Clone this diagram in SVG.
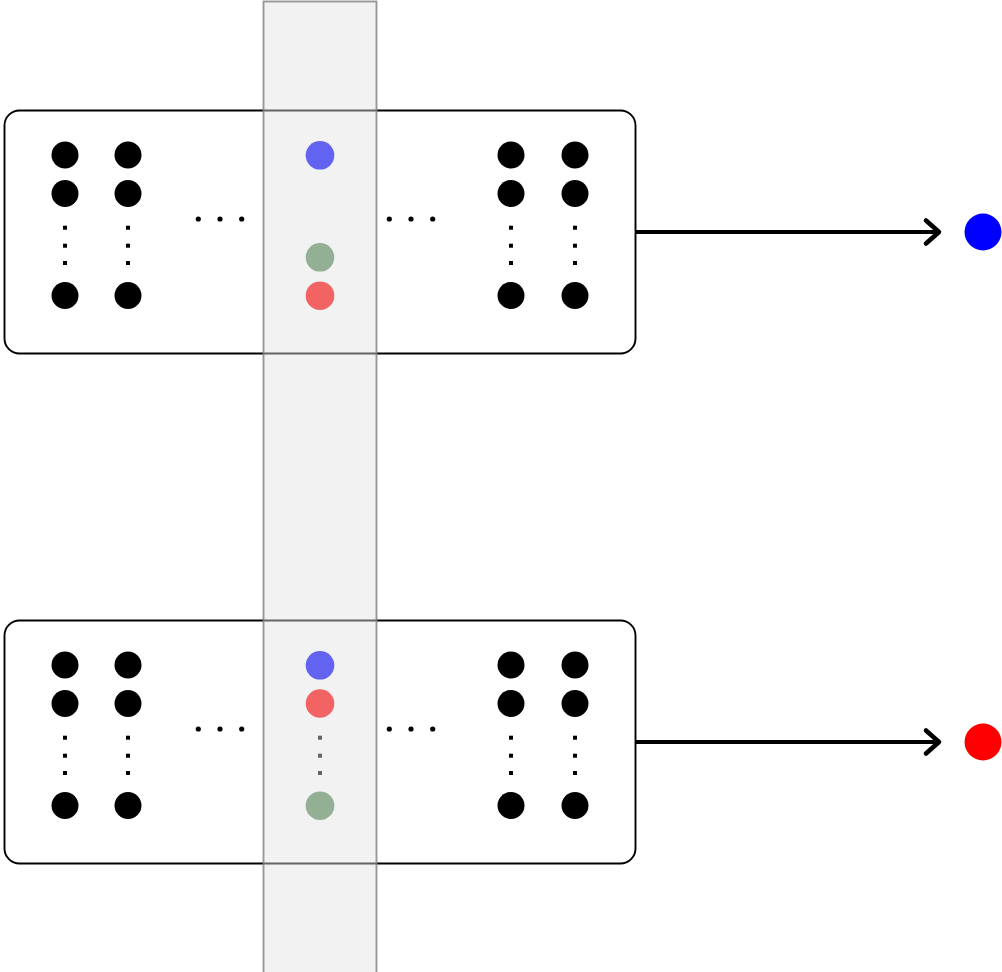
<svg xmlns="http://www.w3.org/2000/svg" width="1002" height="972" viewBox="0 0 1002 972">
  <style>
    .box { fill: none; stroke: #000; stroke-width: 1.9; }
    .dot { fill: #000; }
    .hd { fill: #000; }
    .vd { fill: #000; }
    .edge { fill: none; stroke: #000; stroke-width: 4.2; }
    .head { fill: none; stroke: #000; stroke-width: 4.6; stroke-linecap: round; stroke-linejoin: round; }
    .band { fill: #e2e2e2; fill-opacity: 0.44; stroke: #808080; stroke-opacity: 0.8; stroke-width: 1.9; }
  </style>
  <defs>
    <!-- a column of values: two dots, vertical ellipsis, last dot -->
    <g id="col">
      <circle class="dot" cx="0" cy="0" r="13.5"/>
      <circle class="dot" cx="0" cy="38.5" r="13.5"/>
      <rect class="vd" x="-2" y="70.7" width="4" height="4"/>
      <rect class="vd" x="-2" y="88.7" width="4" height="4"/>
      <rect class="vd" x="-2" y="106" width="4" height="4"/>
      <circle class="dot" cx="0" cy="140.5" r="13.5"/>
    </g>
    <g id="hdots">
      <circle class="hd" cx="0" cy="0" r="2.6"/>
      <circle class="hd" cx="21.7" cy="0" r="2.6"/>
      <circle class="hd" cx="43.4" cy="0" r="2.6"/>
    </g>
  </defs>

  <rect width="1002" height="972" fill="#fff"/>

  <!-- upper record -->
  <g id="record-top">
    <rect class="box" x="4.5" y="110.5" width="631" height="243" rx="15"/>
    <use href="#col" x="65" y="155"/>
    <use href="#col" x="128" y="155"/>
    <use href="#hdots" x="198.3" y="219"/>
    <circle cx="320" cy="155.3" r="14.3" fill="#0000ff"/>
    <circle cx="320" cy="257.3" r="14.3" fill="#588a58"/>
    <circle cx="320" cy="295.7" r="14.3" fill="#ff0000"/>
    <use href="#hdots" x="389.3" y="219"/>
    <use href="#col" x="511" y="155"/>
    <use href="#col" x="575" y="155"/>
  </g>

  <!-- lower record -->
  <g id="record-bottom">
    <rect class="box" x="4.5" y="620.5" width="631" height="243" rx="15"/>
    <use href="#col" x="65" y="665"/>
    <use href="#col" x="128" y="665"/>
    <use href="#hdots" x="198.3" y="729"/>
    <circle cx="320" cy="665.3" r="14.3" fill="#0000ff"/>
    <circle cx="320" cy="703.5" r="14.3" fill="#ff0000"/>
    <rect class="vd" x="318" y="735.7" width="4" height="4"/>
    <rect class="vd" x="318" y="753.7" width="4" height="4"/>
    <rect class="vd" x="318" y="771" width="4" height="4"/>
    <circle cx="320" cy="805.7" r="14.3" fill="#588a58"/>
    <use href="#hdots" x="389.3" y="729"/>
    <use href="#col" x="511" y="665"/>
    <use href="#col" x="575" y="665"/>
  </g>

  <!-- highlighted column across both records -->
  <g id="band">
    <rect class="band" x="263.5" y="1.5" width="113" height="980"/>
  </g>

  <!-- outputs -->
  <g id="out-blue">
    <circle cx="983" cy="232" r="18.5" fill="#0000ff"/>
  </g>
  <g id="out-red">
    <circle cx="983" cy="742" r="18.5" fill="#ff0000"/>
  </g>

  <!-- connectors -->
  <g id="connectors">
    <line class="edge" x1="636" y1="232" x2="937" y2="232"/>
    <polyline class="head" points="926,220.5 939,232 926,243.5"/>
    <line class="edge" x1="636" y1="742" x2="937" y2="742"/>
    <polyline class="head" points="926,730.5 939,742 926,753.5"/>
  </g>
</svg>
